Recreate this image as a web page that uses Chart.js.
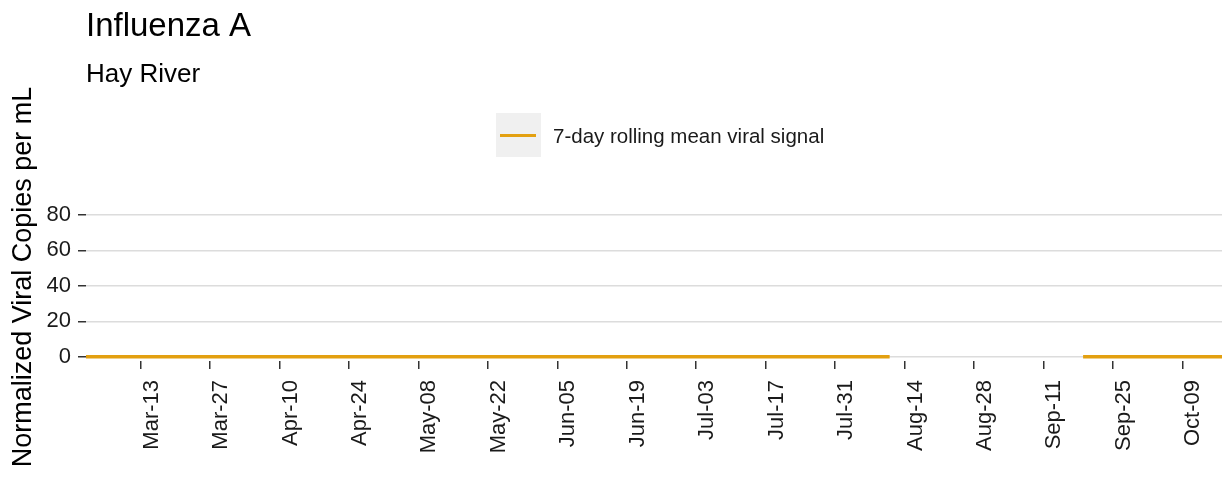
<!DOCTYPE html>
<html lang="en">
<head>
    <meta charset="UTF-8">
    <title>Influenza A - Hay River</title>
    <script src="https://cdn.jsdelivr.net/npm/chart.js"></script>
    <style>
        html, body { margin: 0; padding: 0; background: #fff; }
        #wrap { width: 1225px; height: 484px; }
    </style>
</head>
<body>
    <div id="wrap"><canvas id="grafico"></canvas></div>

    <script>
        // sample dates and 7-day rolling mean (null = no data, gives the gap)
        const sampleDates = [
            '2023-03-02', '2023-03-09', '2023-03-16', '2023-03-23', '2023-03-30',
            '2023-04-06', '2023-04-13', '2023-04-20', '2023-04-27', '2023-05-04',
            '2023-05-11', '2023-05-18', '2023-05-25', '2023-06-01', '2023-06-08',
            '2023-06-15', '2023-06-22', '2023-06-29', '2023-07-06', '2023-07-13',
            '2023-07-20', '2023-07-27', '2023-08-03', '2023-08-11', '2023-08-25',
            '2023-09-19', '2023-09-26', '2023-10-03', '2023-10-10', '2023-10-17'
        ];
        const rollingMean = [
            0, 0, 0, 0, 0,
            0, 0, 0, 0, 0,
            0, 0, 0, 0, 0,
            0, 0, 0, 0, 0,
            0, 0, 0, 0, null,
            0, 0, 0, 0, 0
        ];
        const tickDates = [
            '2023-03-13', '2023-03-27', '2023-04-10', '2023-04-24', '2023-05-08',
            '2023-05-22', '2023-06-05', '2023-06-19', '2023-07-03', '2023-07-17',
            '2023-07-31', '2023-08-14', '2023-08-28', '2023-09-11', '2023-09-25',
            '2023-10-09'
        ];
        const yTicks = [0, 20, 40, 60, 80];
        const monthNames = ['Jan', 'Feb', 'Mar', 'Apr', 'May', 'Jun', 'Jul', 'Aug', 'Sep', 'Oct', 'Nov', 'Dec'];

        const DAY = 86400000;
        const origin = Date.parse(sampleDates[0]);
        const toDay = d => (Date.parse(d) - origin) / DAY;

        function formatDay(v) {
            const d = new Date(origin + v * DAY);
            return monthNames[d.getUTCMonth()] + '-' + String(d.getUTCDate()).padStart(2, '0');
        }

        const lineColor = '#E3A010';
        const font = 'Liberation Sans, Arial, sans-serif';

        // titles, y title and legend drawn by hand (ggplot style, left aligned on the panel)
        const header = {
            id: 'header',
            afterDraw(chart) {
                const ctx = chart.ctx;
                const left = chart.chartArea.left;
                ctx.save();
                ctx.fillStyle = '#000';
                ctx.textAlign = 'left';
                ctx.textBaseline = 'alphabetic';
                ctx.font = '33px ' + font;
                ctx.fillText('Influenza A', left, 36);
                ctx.font = '26px ' + font;
                ctx.fillText('Hay River', left, 82);

                // y axis title
                ctx.save();
                ctx.translate(24, 277);
                ctx.rotate(-Math.PI / 2);
                ctx.textAlign = 'center';
                ctx.textBaseline = 'middle';
                ctx.font = '27px ' + font;
                ctx.fillText('Normalized Viral Copies per mL', 0, 0);
                ctx.restore();

                // legend
                ctx.fillStyle = '#f0f0f0';
                ctx.fillRect(496, 113, 45, 44);
                ctx.strokeStyle = lineColor;
                ctx.lineWidth = 3;
                ctx.beginPath();
                ctx.moveTo(500, 135.5);
                ctx.lineTo(536, 135.5);
                ctx.stroke();
                ctx.fillStyle = '#1a1a1a';
                ctx.textBaseline = 'middle';
                ctx.font = '20.5px ' + font;
                ctx.fillText('7-day rolling mean viral signal', 553, 137);
                ctx.restore();
            }
        };

        const ctx = document.getElementById('grafico').getContext('2d');
        new Chart(ctx, {
            type: 'line',
            data: {
                datasets: [{
                    label: '7-day rolling mean viral signal',
                    data: sampleDates.map((d, i) => ({ x: toDay(d), y: rollingMean[i] })),
                    borderColor: lineColor,
                    borderWidth: 3.5,
                    pointRadius: 0,
                    spanGaps: false,
                    tension: 0
                }]
            },
            options: {
                responsive: true,
                maintainAspectRatio: false,
                animation: false,
                layout: { padding: { top: 215, right: 3, bottom: 0, left: 0 } },
                plugins: {
                    legend: { display: false },
                    tooltip: { enabled: false }
                },
                scales: {
                    x: {
                        type: 'linear',
                        min: toDay(sampleDates[0]),
                        max: toDay(sampleDates[sampleDates.length - 1]),
                        afterBuildTicks: s => { s.ticks = tickDates.map(d => ({ value: toDay(d) })); },
                        afterFit: s => { s.height = 123; },
                        border: { display: false },
                        grid: {
                            drawOnChartArea: false,
                            drawTicks: true,
                            tickLength: 8,
                            tickColor: '#333',
                            lineWidth: 1.5
                        },
                        ticks: {
                            autoSkip: false,
                            maxRotation: 90,
                            minRotation: 90,
                            padding: 11,
                            labelOffset: 11,
                            color: '#1a1a1a',
                            font: { family: font, size: 22 },
                            callback: v => formatDay(v)
                        }
                    },
                    y: {
                        min: -2.4,
                        max: 80,
                        afterBuildTicks: s => { s.ticks = yTicks.map(v => ({ value: v })); },
                        afterFit: s => { s.width = 86; },
                        border: { display: false },
                        grid: {
                            color: '#dcdcdc',
                            lineWidth: 1.5,
                            tickLength: 8,
                            tickColor: '#333'
                        },
                        ticks: {
                            padding: 7,
                            color: '#1a1a1a',
                            font: { family: font, size: 22 }
                        }
                    }
                }
            },
            plugins: [header]
        });
    </script>
</body>
</html>
